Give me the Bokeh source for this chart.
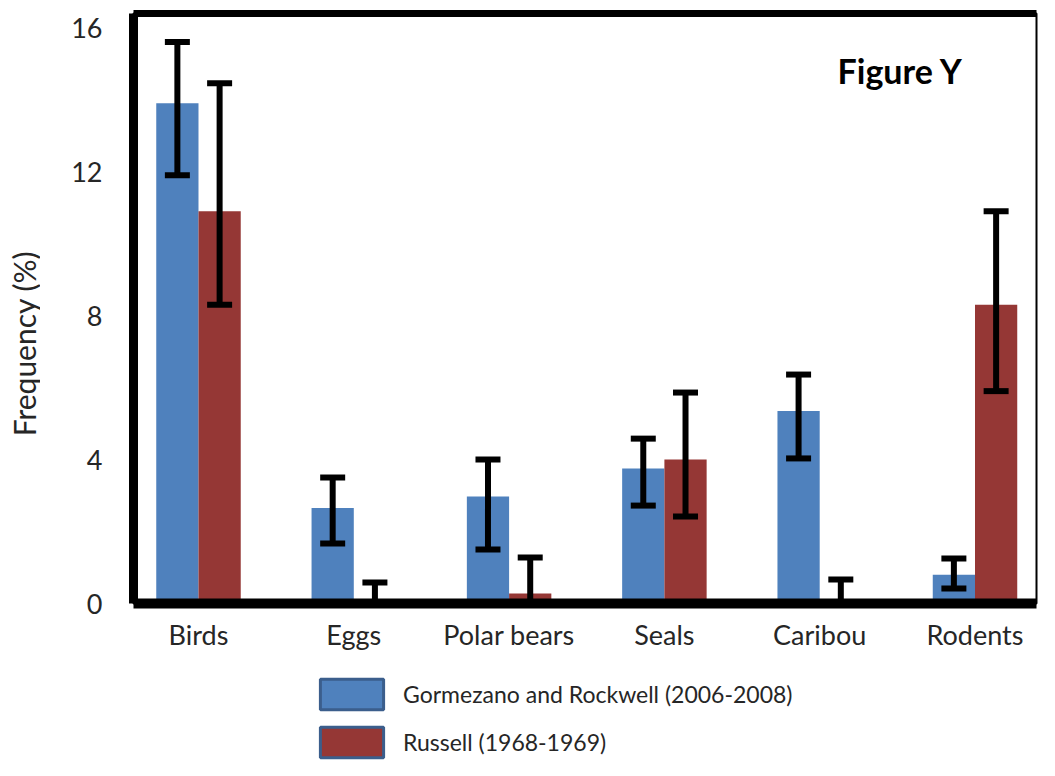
import numpy as np
from bokeh.plotting import figure
from bokeh.models import (ColumnDataSource, Range1d, FixedTicker, LinearAxis, Whisker,
                          TeeHead, Label, Legend, LegendItem)
from bokeh.layouts import column, row
from bokeh.transform import dodge
from bokeh.embed import file_html
from bokeh.resources import INLINE

categories = ["Birds", "Eggs", "Polar bears", "Seals", "Caribou", "Rodents"]
series_names = ["Gormezano and Rockwell (2006-2008)", "Russell (1968-1969)"]
gr_freq = [13.9, 2.65, 2.97, 3.75, 5.35, 0.8]
gr_lower = [11.9, 1.67, 1.5, 2.72, 4.03, 0.42]
gr_upper = [15.6, 3.5, 4.0, 4.58, 6.36, 1.25]
ru_freq = [10.9, 0.0, 0.28, 4.0, 0.0, 8.3]
ru_lower = [8.3, 0.0, 0.0, 2.42, 0.0, 5.9]
ru_upper = [14.45, 0.58, 1.28, 5.86, 0.67, 10.9]
y_ticks = [0, 4, 8, 12, 16]

BLUE = "#4F81BD"
RED = "#953735"
EDGE = "#3B5E8C"
FONT = "Lato"
TXT = "#262626"

TOTAL_W = 1039
LABEL_W = 40
MAIN_H = 672
LEG_H = 88
FRAME_BOTTOM = 603

src = ColumnDataSource(dict(x=list(range(len(categories))), gr=gr_freq, grl=gr_lower, gru=gr_upper,
                            ru=ru_freq, rul=ru_lower, ruu=ru_upper))

p = figure(width=TOTAL_W - LABEL_W, height=MAIN_H, output_backend="svg", toolbar_location=None,
           x_range=Range1d(-0.4185, 5.396), y_range=Range1d(0, 16.39),
           min_border_left=133 - LABEL_W, min_border_right=3, min_border_top=13,
           min_border_bottom=MAIN_H - FRAME_BOTTOM)
p.xgrid.visible = False
p.ygrid.visible = False
p.outline_line_color = "black"
p.outline_line_width = 2
p.background_fill_color = "white"
p.border_fill_color = "white"

bw = 0.272
off = bw / 2
p.vbar(x=dodge("x", -off, range=p.x_range), top="gr", width=bw, source=src,
       fill_color=BLUE, line_color=None)
p.vbar(x=dodge("x", off, range=p.x_range), top="ru", width=bw, source=src,
       fill_color=RED, line_color=None)

for d, lo, up in [(-off, "grl", "gru"), (off, "rul", "ruu")]:
    w = Whisker(base=dodge("x", d, range=p.x_range), lower=lo, upper=up, source=src,
                line_color="black", line_width=6, level="annotation",
                upper_head=TeeHead(size=25, line_width=6, line_color="black"),
                lower_head=TeeHead(size=25, line_width=6, line_color="black"))
    p.add_layout(w)

# axes
p.xaxis.ticker = FixedTicker(ticks=list(range(len(categories))))
p.xaxis.major_label_overrides = {i: c for i, c in enumerate(categories)}
p.xaxis.axis_line_width = 10
p.xaxis.major_tick_line_color = None
p.xaxis.minor_tick_line_color = None
p.xaxis.major_tick_out = 0
p.xaxis.major_tick_in = 0
p.xaxis.major_label_standoff = 14
p.xaxis.major_label_text_font = FONT
p.xaxis.major_label_text_font_size = "27px"
p.xaxis.major_label_text_color = TXT

p.yaxis.ticker = FixedTicker(ticks=y_ticks)
p.yaxis.axis_line_width = 9
p.yaxis.major_tick_line_color = None
p.yaxis.minor_tick_line_color = None
p.yaxis.major_tick_out = 0
p.yaxis.major_tick_in = 0
p.yaxis.major_label_standoff = 31
p.yaxis.major_label_text_font = FONT
p.yaxis.major_label_text_font_size = "27px"
p.yaxis.major_label_text_color = TXT

top_axis = LinearAxis(axis_line_width=7, major_tick_line_color=None, minor_tick_line_color=None,
                      major_tick_out=0, major_tick_in=0, major_label_text_font_size="0px",
                      major_label_standoff=0, ticker=FixedTicker(ticks=[]))
p.add_layout(top_axis, "above")

p.add_layout(Label(x=4.115, y=14.8, text="Figure Y", text_align="left", text_baseline="middle",
                   text_font=FONT, text_font_style="bold", text_font_size="34px", text_color="black"))

# y-axis title in its own narrow strip (its frame is aligned with the main frame)
lab = figure(width=LABEL_W, height=MAIN_H, output_backend="svg", toolbar_location=None,
             x_range=Range1d(0, 1), y_range=Range1d(0, 1), min_border=0)
lab.axis.visible = False
lab.grid.visible = False
lab.outline_line_color = None
lab.add_layout(Label(x=23, y=FRAME_BOTTOM - 343, x_units="screen", y_units="screen",
                     text="Frequency (%)", angle=np.pi / 2, text_align="center",
                     text_baseline="middle", text_font=FONT, text_font_size="30px",
                     text_color=TXT))

# legend strip: hidden proxy bars from the same data, only their legend swatches show
leg = figure(width=TOTAL_W, height=LEG_H, output_backend="svg", toolbar_location=None,
             x_range=Range1d(0, 1), y_range=Range1d(0, 1), min_border=0)
leg.axis.visible = False
leg.grid.visible = False
leg.outline_line_color = None
lg1 = leg.vbar(x="x", top="gr", width=0.1, source=src, fill_color=BLUE, line_color=EDGE,
               line_width=3, visible=False)
lg2 = leg.vbar(x="x", top="ru", width=0.1, source=src, fill_color=RED, line_color=EDGE,
               line_width=3, visible=False)
legend = Legend(items=[LegendItem(label=series_names[0], renderers=[lg1]),
                       LegendItem(label=series_names[1], renderers=[lg2])],
                location=(312, LEG_H - 3 - 86), orientation="vertical",
                glyph_width=79, glyph_height=38, spacing=10, label_standoff=12,
                padding=0, margin=0, border_line_color=None, background_fill_alpha=0,
                inactive_fill_alpha=0,
                label_text_font=FONT, label_text_font_size="23px", label_text_color=TXT)
leg.add_layout(legend)

layout = column(row(lab, p, spacing=0), leg, spacing=0)
open("out.html", "w").write(file_html(layout, INLINE))
